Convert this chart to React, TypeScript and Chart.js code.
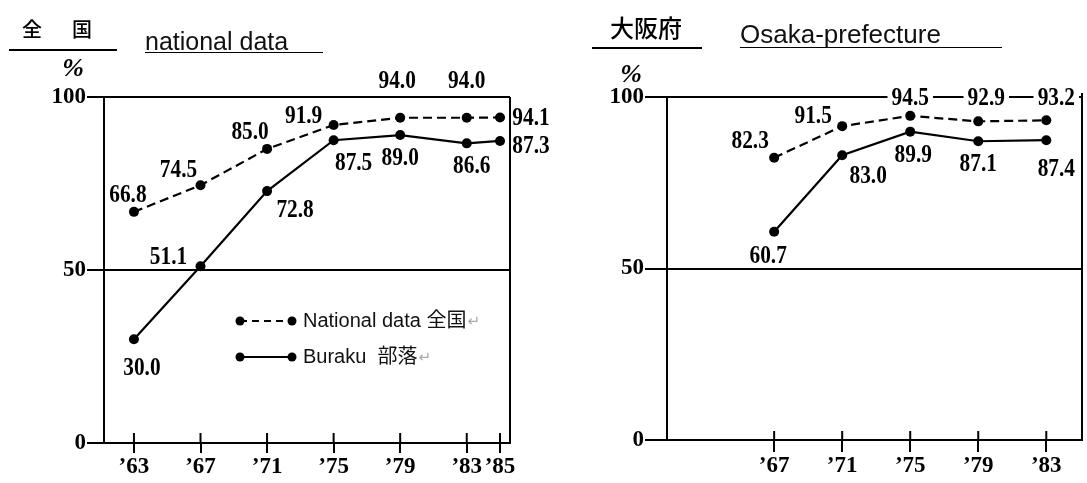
import React, { useEffect, useRef } from "react";
import { Chart, registerables } from "chart.js";

Chart.register(...registerables);

// ---------------- data ----------------
const NATIONAL_YEARS = [63, 67, 71, 75, 79, 83, 85];
const NATIONAL_TOTAL = [66.8, 74.5, 85.0, 91.9, 94.0, 94.0, 94.1];
const NATIONAL_BURAKU = [30.0, 51.1, 72.8, 87.5, 89.0, 86.6, 87.3];

const OSAKA_YEARS = [67, 71, 75, 79, 83];
const OSAKA_TOTAL = [82.3, 91.5, 94.5, 92.9, 93.2];
const OSAKA_BURAKU = [60.7, 83.0, 89.9, 87.1, 87.4];

const Y_TICKS = [0, 50, 100];
const SERIES_NAMES = ["National data 全国", "Buraku  部落"];
const LEFT_TITLE_JP = "全国";
const LEFT_TITLE_EN = "national data";
const RIGHT_TITLE_JP = "大阪府";
const RIGHT_TITLE_EN = "Osaka-prefecture";
const UNIT = "%";

// ---------------- label placement (pixel offsets from each point) ----------------
type Place = { dx: number; dy?: number; onTop?: boolean };
const NAT_TOTAL_PLACE: Place[] = [
  { dx: -6, dy: -18 },
  { dx: -22, dy: -16 },
  { dx: -17, dy: -18 },
  { dx: -30, dy: -10 },
  { dx: -3, dy: -37 },
  { dx: 0, dy: -37 },
  { dx: 31, dy: 0 },
];
const NAT_BURAKU_PLACE: Place[] = [
  { dx: 8, dy: 28 },
  { dx: -32, dy: -10 },
  { dx: 28, dy: 18 },
  { dx: 20, dy: 22 },
  { dx: 0, dy: 22 },
  { dx: 5, dy: 22 },
  { dx: 31, dy: 4 },
];
const OSA_TOTAL_PLACE: Place[] = [
  { dx: -24, dy: -17 },
  { dx: -29, dy: -11 },
  { dx: 0, onTop: true },
  { dx: 8, onTop: true },
  { dx: 10, onTop: true },
];
const OSA_BURAKU_PLACE: Place[] = [
  { dx: -6, dy: 23 },
  { dx: 26, dy: 20 },
  { dx: 3, dy: 23 },
  { dx: 0, dy: 22 },
  { dx: 10, dy: 28 },
];

const SERIF = '"Liberation Serif", "Times New Roman", serif';
const SANS = '"Liberation Sans", Arial, "Noto Sans CJK JP", "DejaVu Sans", sans-serif';
const LABEL_FONT = `bold 26px ${SERIF}`;

// ---------------- plugins ----------------
function valueLabelsPlugin(places: Place[][]) {
  return {
    id: "valueLabels",
    afterDatasetsDraw(chart: any) {
      const ctx: CanvasRenderingContext2D = chart.ctx;
      const yTop = chart.scales.y.getPixelForValue(100);
      chart.data.datasets.forEach((ds: any, di: number) => {
        const meta = chart.getDatasetMeta(di);
        meta.data.forEach((pt: any, i: number) => {
          const p = places[di][i];
          const v = ds.data[i].y as number;
          const text = v.toFixed(1);
          const x = pt.x + p.dx;
          const y = p.onTop ? yTop : pt.y + (p.dy ?? 0);
          ctx.save();
          ctx.translate(x, y);
          ctx.scale(0.82, 1);
          ctx.font = LABEL_FONT;
          ctx.textAlign = "center";
          ctx.textBaseline = "middle";
          if (p.onTop) {
            const w = ctx.measureText(text).width;
            ctx.fillStyle = "#fff";
            ctx.fillRect(-w / 2 - 5, -12, w + 10, 24);
          }
          ctx.fillStyle = "#000";
          ctx.fillText(text, 0, 1);
          ctx.restore();
        });
      });
    },
  };
}

function framePlugin(innerTick: number, rightTopExtra: number) {
  return {
    id: "frame",
    afterDraw(chart: any) {
      const ctx: CanvasRenderingContext2D = chart.ctx;
      const a = chart.chartArea;
      const xs = chart.scales.x;
      ctx.save();
      ctx.strokeStyle = "#000";
      ctx.lineWidth = 2;
      ctx.beginPath();
      ctx.moveTo(a.right, a.top - rightTopExtra);
      ctx.lineTo(a.right, a.bottom);
      ctx.stroke();
      xs.ticks.forEach((_t: any, i: number) => {
        const px = xs.getPixelForTick(i);
        ctx.beginPath();
        ctx.moveTo(px, a.bottom - innerTick);
        ctx.lineTo(px, a.bottom);
        ctx.stroke();
      });
      ctx.restore();
    },
  };
}

const legendPlugin = {
  id: "pairLegend",
  afterDraw(chart: any) {
    const ctx: CanvasRenderingContext2D = chart.ctx;
    const a = chart.chartArea;
    const x0 = a.left + 136;
    const x1 = a.left + 188;
    const tx = a.left + 199;
    const rows = [a.top + 224, a.top + 260];
    ctx.save();
    rows.forEach((y, i) => {
      ctx.strokeStyle = "#000";
      ctx.lineWidth = 2;
      ctx.setLineDash(i === 0 ? [7, 5] : []);
      ctx.beginPath();
      ctx.moveTo(x0, y);
      ctx.lineTo(x1, y);
      ctx.stroke();
      ctx.setLineDash([]);
      ctx.fillStyle = "#000";
      [x0, x1].forEach((px) => {
        ctx.beginPath();
        ctx.arc(px, y, 4.5, 0, Math.PI * 2);
        ctx.fill();
      });
      ctx.font = `20px ${SANS}`;
      ctx.textAlign = "left";
      ctx.textBaseline = "middle";
      ctx.fillStyle = "#111";
      const name = SERIES_NAMES[i];
      ctx.fillText(name, tx, y);
      const w = ctx.measureText(name).width;
      ctx.font = `15px "DejaVu Sans", sans-serif`;
      ctx.fillStyle = "#aaa";
      ctx.fillText("\u21B5", tx + w + 1, y + 1);
    });
    ctx.restore();
  },
};

// ---------------- config builder ----------------
type PanelOpts = {
  years: number[];
  total: number[];
  buraku: number[];
  xMin: number;
  xMax: number;
  padRight: number;
  yWidth: number;
  xHeight: number;
  yTickLen: number;
  xTickLen: number;
  innerTick: number;
  rightTopExtra: number;
  places: Place[][];
  legend: boolean;
};

function buildConfig(o: PanelOpts): any {
  const tickFont = { family: SERIF, size: 23, weight: "bold" as const };
  const plugins: any[] = [valueLabelsPlugin(o.places), framePlugin(o.innerTick, o.rightTopExtra)];
  if (o.legend) plugins.push(legendPlugin);
  return {
    type: "line",
    data: {
      datasets: [
        {
          label: SERIES_NAMES[0],
          data: o.years.map((yr, i) => ({ x: yr, y: o.total[i] })),
          borderColor: "#000",
          borderWidth: 2.2,
          borderDash: [9, 5],
          pointRadius: 5,
          pointBackgroundColor: "#000",
          pointBorderWidth: 0,
          tension: 0,
          clip: false,
        },
        {
          label: SERIES_NAMES[1],
          data: o.years.map((yr, i) => ({ x: yr, y: o.buraku[i] })),
          borderColor: "#000",
          borderWidth: 2.2,
          pointRadius: 5,
          pointBackgroundColor: "#000",
          pointBorderWidth: 0,
          tension: 0,
          clip: false,
        },
      ],
    },
    options: {
      responsive: false,
      animation: false,
      events: [],
      layout: { padding: { left: 0, right: o.padRight, top: 97, bottom: 0 } },
      plugins: { legend: { display: false }, tooltip: { enabled: false }, title: { display: false } },
      scales: {
        x: {
          type: "linear",
          min: o.xMin,
          max: o.xMax,
          afterBuildTicks: (scale: any) => {
            scale.ticks = o.years.map((v) => ({ value: v }));
          },
          afterFit: (scale: any) => {
            scale.height = o.xHeight;
          },
          ticks: {
            autoSkip: false,
            maxRotation: 0,
            minRotation: 0,
            padding: 0,
            color: "#000",
            font: tickFont,
            callback: (v: any) => "\u2019" + v,
          },
          grid: {
            display: true,
            drawOnChartArea: false,
            drawTicks: true,
            tickLength: o.xTickLen,
            color: "#000",
            lineWidth: 2,
          },
          border: { display: true, color: "#000", width: 2 },
        },
        y: {
          type: "linear",
          min: 0,
          max: 100,
          afterBuildTicks: (scale: any) => {
            scale.ticks = Y_TICKS.map((v) => ({ value: v }));
          },
          afterFit: (scale: any) => {
            scale.width = o.yWidth;
          },
          ticks: { padding: 1, color: "#000", font: tickFont },
          grid: {
            display: true,
            drawOnChartArea: true,
            drawTicks: true,
            tickLength: o.yTickLen,
            color: "#000",
            lineWidth: 2,
          },
          border: { display: true, color: "#000", width: 2 },
        },
      },
    },
    plugins,
  };
}

// ---------------- components ----------------
function Panel({ left, width, opts }: { left: number; width: number; opts: PanelOpts }) {
  const ref = useRef<HTMLCanvasElement | null>(null);
  useEffect(() => {
    if (!ref.current) return;
    const chart = new Chart(ref.current, buildConfig(opts));
    return () => chart.destroy();
  }, []);
  return (
    <canvas
      ref={ref}
      width={width}
      height={483}
      style={{ position: "absolute", left, top: 0, width, height: 483, display: "block" }}
    />
  );
}

const leftOpts: PanelOpts = {
  years: NATIONAL_YEARS,
  total: NATIONAL_TOTAL,
  buraku: NATIONAL_BURAKU,
  xMin: 61.2,
  xMax: 85.6,
  padRight: 50,
  yWidth: 104,
  xHeight: 40,
  yTickLen: 17,
  xTickLen: 10,
  innerTick: 10,
  rightTopExtra: 0,
  places: [NAT_TOTAL_PLACE, NAT_BURAKU_PLACE],
  legend: true,
};

const rightOpts: PanelOpts = {
  years: OSAKA_YEARS,
  total: OSAKA_TOTAL,
  buraku: OSAKA_BURAKU,
  xMin: 60.7,
  xMax: 85.1,
  padRight: 3,
  yWidth: 97,
  xHeight: 43,
  yTickLen: 22,
  xTickLen: 12,
  innerTick: 9,
  rightTopExtra: 4,
  places: [OSA_TOTAL_PLACE, OSA_BURAKU_PLACE],
  legend: false,
};

export default function App() {
  const abs = { position: "absolute" as const };
  return (
    <div
      style={{
        position: "absolute",
        left: 0,
        top: 0,
        width: 1087,
        height: 483,
        overflow: "hidden",
        background: "#fff",
        color: "#000",
      }}
    >
      <Panel left={0} width={560} opts={leftOpts} />
      <Panel left={570} width={517} opts={rightOpts} />

      <div
        style={{
          ...abs,
          left: 9,
          top: 19,
          width: 95,
          paddingLeft: 13,
          height: 20,
          lineHeight: "20px",
          fontSize: 20,
          letterSpacing: 30,
          fontWeight: 500,
          fontFamily: '"Noto Sans CJK JP", "Noto Sans CJK SC", sans-serif',
          paddingBottom: 10,
          borderBottom: "2px solid #000",
          whiteSpace: "nowrap",
        }}
      >
        {LEFT_TITLE_JP}
      </div>
      <div
        style={{
          ...abs,
          left: 145,
          top: 30,
          width: 178,
          height: 22,
          lineHeight: "22px",
          fontSize: 25,
          fontFamily: SANS,
          color: "#111",
          borderBottom: "1.5px solid #000",
          whiteSpace: "nowrap",
        }}
      >
        {LEFT_TITLE_EN}
      </div>
      <div
        style={{
          ...abs,
          left: 592,
          top: 15,
          width: 92,
          paddingLeft: 18,
          height: 24,
          lineHeight: "24px",
          fontSize: 24,
          fontWeight: 500,
          fontFamily: '"Noto Sans CJK JP", "Noto Sans CJK SC", sans-serif',
          paddingBottom: 8,
          borderBottom: "2px solid #000",
          whiteSpace: "nowrap",
        }}
      >
        {RIGHT_TITLE_JP}
      </div>
      <div
        style={{
          ...abs,
          left: 740,
          top: 23,
          width: 262,
          height: 22,
          lineHeight: "22px",
          paddingBottom: 2,
          fontSize: 26,
          fontFamily: SANS,
          color: "#111",
          borderBottom: "1.5px solid #000",
          whiteSpace: "nowrap",
        }}
      >
        {RIGHT_TITLE_EN}
      </div>
      <div
        style={{
          ...abs,
          left: 61,
          top: 55,
          width: 24,
          textAlign: "center",
          lineHeight: "26px",
          fontSize: 26,
          fontWeight: "bold",
          fontStyle: "italic",
          fontFamily: SERIF,
        }}
      >
        {UNIT}
      </div>
      <div
        style={{
          ...abs,
          left: 619,
          top: 61,
          width: 24,
          textAlign: "center",
          lineHeight: "26px",
          fontSize: 26,
          fontWeight: "bold",
          fontStyle: "italic",
          fontFamily: SERIF,
        }}
      >
        {UNIT}
      </div>
    </div>
  );
}
